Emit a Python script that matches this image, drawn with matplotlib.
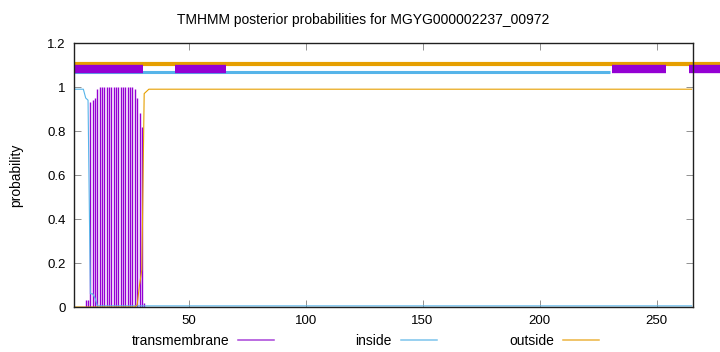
import matplotlib.pyplot as plt
from matplotlib.lines import Line2D

plt.rcParams['font.family'] = ['Liberation Sans', 'DejaVu Sans']

# posterior probability per residue
tm_pos = [6, 7, 8, 9, 10, 11, 12, 13, 14, 15, 16, 17, 18, 19, 20, 21, 22, 23,
          24, 25, 26, 27, 28, 29, 30, 31]
tm_prob = [0.03, 0.03, 0.93, 0.94, 0.95, 0.99, 1.0, 1.0, 1.0, 1.0, 1.0, 1.0,
           1.0, 1.0, 1.0, 1.0, 1.0, 1.0, 1.0, 1.0, 1.0, 0.99, 0.95, 0.88,
           0.82, 0.02]

inside_pos = [1, 5, 6, 7, 8, 9, 10, 11, 265]
inside_prob = [0.99, 0.99, 0.95, 0.94, 0.06, 0.06, 0.04, 0.005, 0.005]

outside_pos = [1, 27, 28, 29, 30, 31, 32, 33, 265]
outside_prob = [0.0, 0.0, 0.01, 0.1, 0.17, 0.97, 0.98, 0.99, 0.99]

# predicted topology segments drawn above the curves
tm_segments = [(1, 30.5), (44, 66), (231, 254), (264, 277)]
inside_segments = [(1, 230)]
outside_segments = [(1, 277)]

title = 'TMHMM posterior probabilities for MGYG000002237_00972'
c_tm = '#9400d3'
c_in = '#56b4e9'
c_out = '#e69f00'

fig = plt.figure(figsize=(7.2, 3.52), dpi=100)
ax = fig.add_axes([74 / 720, 45 / 352, 619 / 720, 264 / 352])

ax.vlines(tm_pos, 0, tm_prob, colors=c_tm, lw=1.0)
ax.plot(inside_pos, inside_prob, color=c_in, lw=0.8)
ax.plot(outside_pos, outside_prob, color=c_out, lw=0.8)

for a, b in outside_segments:
    ax.plot([a, b], [1.105, 1.105], color=c_out, lw=3, solid_capstyle='butt', clip_on=False)
for a, b in inside_segments:
    ax.plot([a, b], [1.067, 1.067], color=c_in, lw=2.2, solid_capstyle='butt', clip_on=False)
for a, b in tm_segments:
    ax.plot([a, b], [1.083, 1.083], color=c_tm, lw=6, solid_capstyle='butt', clip_on=False)

ax.set_xlim(1, 265.6)
ax.set_ylim(0, 1.2)
ax.set_xticks([50, 100, 150, 200, 250])
ax.set_yticks([0, 0.2, 0.4, 0.6, 0.8, 1.0, 1.2])
ax.set_yticklabels(['0', '0.2', '0.4', '0.6', '0.8', '1', '1.2'])
ax.tick_params(direction='in', length=5, width=0.6, color='#808080',
               top=True, right=True, labelsize=9.5, pad=6)
for s in ax.spines.values():
    s.set_linewidth(1.0)
    s.set_color('#202020')

ax.set_ylabel('probability', fontsize=10, labelpad=17)
fig.text(363 / 720, 1 - 20 / 352, title, ha='center', va='center', fontsize=10)

# legend along the bottom, gnuplot style
leg = [('transmembrane', 229, '#a844d8'), ('inside', 392, '#7cc4ec'), ('outside', 554, '#ecb440')]
ly = 1 - 341 / 352
for txt, xr, c in leg:
    fig.text(xr / 720, ly, txt, ha='right', va='center', fontsize=10)
    fig.add_artist(Line2D([(xr + 9) / 720, (xr + 45) / 720], [ly + 0.002, ly + 0.002],
                          color=c, lw=1.1))

fig.savefig('out.png', dpi=100)
